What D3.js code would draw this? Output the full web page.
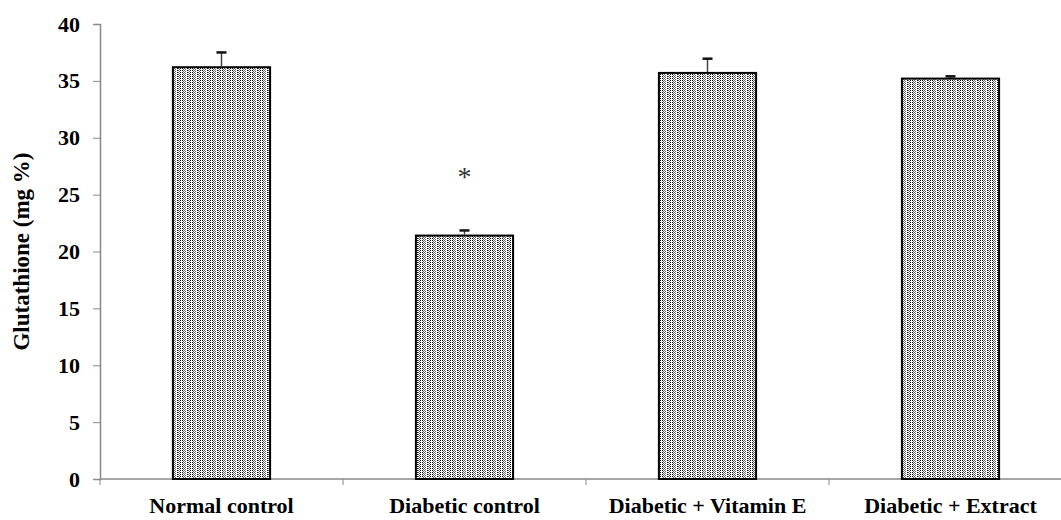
<!DOCTYPE html>
<html>
<head>
<meta charset="utf-8">
<script src="https://cdn.jsdelivr.net/npm/d3@7"></script>
<style>
  body { margin: 0; background: #fff; }
  svg { display: block; }
</style>
</head>
<body>
<div id="chart"></div>
<script>
"use strict";
var categories = ["Normal control", "Diabetic control", "Diabetic + Vitamin E", "Diabetic + Extract"];
var means = [36.2, 21.4, 35.7, 35.2];
var errors = [1.3, 0.45, 1.25, 0.2];
var marks = ["", "*", "", ""];
var yTicks = [0, 5, 10, 15, 20, 25, 30, 35, 40];

function drawChart()
{
    var w = 1061;
    var h = 520;
    var left = 100, top = 24, plotW = 972, plotH = 455;
    var font = "'Liberation Serif', 'Times New Roman', serif";

    var svg = d3.select("#chart")
                .append("svg")
                .attr("width", w)
                .attr("height", h);

    // dotted fill like the old excel pattern
    var defs = svg.append("defs");
    var pat = defs.append("pattern")
        .attr("id", "dots")
        .attr("patternUnits", "userSpaceOnUse")
        .attr("width", 10)
        .attr("height", 4);
    pat.append("rect").attr("width", 10).attr("height", 4).attr("fill", "#fff");
    [0, 2, 7].forEach(function(x) {
        pat.append("rect").attr("x", x).attr("y", 0).attr("width", 1).attr("height", 1).attr("fill", "#000");
        pat.append("rect").attr("x", x).attr("y", 2).attr("width", 1).attr("height", 1).attr("fill", "#000");
    });
    [3, 4, 5, 8, 9].forEach(function(x) {
        var off = x % 2;
        pat.append("rect").attr("x", x).attr("y", off).attr("width", 1).attr("height", 1).attr("fill", "#666");
        pat.append("rect").attr("x", x).attr("y", off + 2).attr("width", 1).attr("height", 1).attr("fill", "#666");
    });

    var x = d3.scaleBand()
              .domain(categories)
              .range([left, left + plotW])
              .paddingInner(0.6)
              .paddingOuter(0.3);

    var y = d3.scaleLinear()
              .domain([0, 40])
              .range([top + plotH, top]);

    // y axis
    var yAxis = svg.append("g")
        .attr("transform", "translate(" + left + ",0)")
        .call(d3.axisLeft(y).tickValues(yTicks).tickSize(7).tickPadding(13));
    yAxis.select(".domain").attr("stroke", "#888").attr("stroke-width", 1.5);
    yAxis.selectAll(".tick line").attr("stroke", "#888");
    yAxis.selectAll(".tick text")
        .attr("fill", "#000")
        .style("font-family", font)
        .style("font-weight", "bold")
        .style("font-size", "22px");

    // x axis line with tick marks between categories
    var xg = svg.append("g").attr("class", "xaxis");
    xg.append("line")
        .attr("x1", left).attr("x2", left + plotW)
        .attr("y1", y(0)).attr("y2", y(0))
        .attr("stroke", "#888").attr("stroke-width", 1.5);
    xg.selectAll("line.tk")
        .data(categories)
        .enter().append("line")
        .attr("class", "tk")
        .attr("x1", function(d) { return x(d) - x.step() * x.paddingInner() / 2; })
        .attr("x2", function(d) { return x(d) - x.step() * x.paddingInner() / 2; })
        .attr("y1", y(0)).attr("y2", y(0) + 6)
        .attr("stroke", "#888");
    xg.selectAll("text")
        .data(categories)
        .enter().append("text")
        .attr("x", function(d) { return x(d) + x.bandwidth() / 2; })
        .attr("y", 513)
        .attr("text-anchor", "middle")
        .style("font-family", font)
        .style("font-weight", "bold")
        .style("font-size", "22px")
        .text(function(d) { return d; });

    // bars
    svg.selectAll("rect.bar")
        .data(categories)
        .enter().append("rect")
        .attr("class", "bar")
        .attr("x", function(d) { return x(d); })
        .attr("width", x.bandwidth())
        .attr("y", function(d, i) { return y(means[i]); })
        .attr("height", function(d, i) { return y(0) - y(means[i]); })
        .attr("fill", "url(#dots)")
        .attr("stroke", "#000")
        .attr("stroke-width", 2);

    // error bars (upper only)
    var eb = svg.selectAll("g.err")
        .data(categories)
        .enter().append("g")
        .attr("class", "err");
    eb.append("line")
        .attr("x1", function(d) { return x(d) + x.bandwidth() / 2; })
        .attr("x2", function(d) { return x(d) + x.bandwidth() / 2; })
        .attr("y1", function(d, i) { return y(means[i]) - 1; })
        .attr("y2", function(d, i) { return y(means[i] + errors[i]); })
        .attr("stroke", "#444")
        .attr("stroke-width", 1.5);
    eb.append("line")
        .attr("x1", function(d) { return x(d) + x.bandwidth() / 2 - 5; })
        .attr("x2", function(d) { return x(d) + x.bandwidth() / 2 + 5; })
        .attr("y1", function(d, i) { return y(means[i] + errors[i]); })
        .attr("y2", function(d, i) { return y(means[i] + errors[i]); })
        .attr("stroke", "#111")
        .attr("stroke-width", 2.5);

    // significance mark
    svg.selectAll("text.mark")
        .data(categories)
        .enter().append("text")
        .attr("class", "mark")
        .attr("x", function(d) { return x(d) + x.bandwidth() / 2; })
        .attr("y", function(d, i) { return y(means[i] + errors[i]) - 44; })
        .attr("text-anchor", "middle")
        .attr("fill", "#333")
        .style("font-family", font)
        .style("font-size", "28px")
        .text(function(d, i) { return marks[i]; });

    // y title
    svg.append("text")
        .attr("transform", "translate(29," + (top + plotH / 2) + ") rotate(-90)")
        .attr("text-anchor", "middle")
        .style("font-family", font)
        .style("font-weight", "bold")
        .style("font-size", "23px")
        .text("Glutathione (mg %)");
}

window.addEventListener('load', function () {
    drawChart();
});
</script>
</body>
</html>
